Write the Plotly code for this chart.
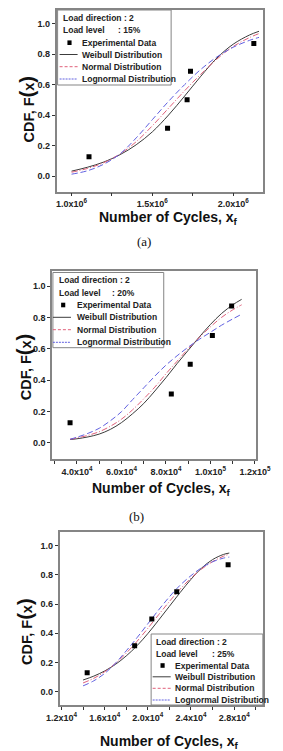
import plotly.graph_objects as go

FIG_W, FIG_H = 283, 751

# ---------------- data ----------------
# Panel (a)  load level 15 %
a_exp_x = [1.108e6, 1.594e6, 1.715e6, 1.736e6, 2.128e6]
a_exp_y = [0.127, 0.313, 0.500, 0.687, 0.869]
a_fit_x = [1.0e6, 1.1e6, 1.2e6, 1.3e6, 1.4e6, 1.5e6, 1.6e6, 1.7e6, 1.8e6, 1.9e6, 2.0e6, 2.1e6, 2.16e6]
a_weibull = [0.032, 0.058, 0.092, 0.140, 0.205, 0.290, 0.400, 0.525, 0.655, 0.775, 0.865, 0.925, 0.950]
a_normal = [0.025, 0.050, 0.088, 0.145, 0.225, 0.330, 0.445, 0.560, 0.668, 0.768, 0.850, 0.908, 0.935]
a_lognormal = [0.012, 0.035, 0.078, 0.145, 0.250, 0.370, 0.490, 0.600, 0.700, 0.782, 0.845, 0.890, 0.910]
a_tickvals = [1.0e6, 1.5e6, 2.0e6]
a_ticktext = ["1.0x10<sup>6</sup>", "1.5x10<sup>6</sup>", "2.0x10<sup>6</sup>"]
a_minorvals = [1.25e6, 1.75e6]

# Panel (b)  load level 20 %
b_exp_x = [3.69e4, 8.24e4, 9.09e4, 1.0085e5, 1.095e5]
b_exp_y = [0.128, 0.311, 0.500, 0.685, 0.872]
b_fit_x = [3.69e4, 4.0e4, 4.5e4, 5.0e4, 5.5e4, 6.0e4, 6.5e4, 7.0e4, 7.5e4, 8.0e4, 8.5e4,
           9.0e4, 9.5e4, 1.0e5, 1.05e5, 1.1e5, 1.14e5]
b_weibull = [0.020, 0.025, 0.037, 0.055, 0.085, 0.128, 0.185, 0.250, 0.330, 0.415, 0.505,
             0.590, 0.675, 0.755, 0.825, 0.880, 0.915]
b_normal = [0.022, 0.030, 0.047, 0.070, 0.105, 0.150, 0.210, 0.280, 0.355, 0.440, 0.520,
            0.600, 0.672, 0.740, 0.800, 0.848, 0.880]
b_lognormal = [0.022, 0.035, 0.060, 0.092, 0.140, 0.198, 0.275, 0.350, 0.425, 0.495, 0.555,
               0.610, 0.660, 0.705, 0.750, 0.790, 0.820]
b_tickvals = [4e4, 6e4, 8e4, 1.0e5, 1.2e5]
b_ticktext = ["4.0x10<sup>4</sup>", "6.0x10<sup>4</sup>", "8.0x10<sup>4</sup>",
              "1.0x10<sup>5</sup>", "1.2x10<sup>5</sup>"]
b_minorvals = [3e4, 5e4, 7e4, 9e4, 1.1e5]

# Panel (c)  load level 25 %
c_exp_x = [1.438e4, 1.878e4, 2.037e4, 2.268e4, 2.744e4]
c_exp_y = [0.130, 0.315, 0.498, 0.685, 0.870]
c_fit_x = [1.4e4, 1.5e4, 1.6e4, 1.7e4, 1.8e4, 1.9e4, 2.0e4, 2.1e4, 2.2e4, 2.3e4, 2.4e4,
           2.5e4, 2.6e4, 2.7e4, 2.755e4]
c_weibull = [0.080, 0.107, 0.142, 0.187, 0.245, 0.315, 0.398, 0.490, 0.585, 0.680, 0.770,
             0.848, 0.905, 0.940, 0.950]
c_normal = [0.060, 0.092, 0.137, 0.194, 0.264, 0.345, 0.434, 0.527, 0.618, 0.703, 0.778,
            0.841, 0.891, 0.928, 0.942]
c_lognormal = [0.040, 0.075, 0.125, 0.195, 0.280, 0.370, 0.465, 0.560, 0.650, 0.730, 0.795,
               0.850, 0.890, 0.915, 0.922]
c_tickvals = [1.2e4, 1.6e4, 2.0e4, 2.4e4, 2.8e4]
c_ticktext = ["1.2x10<sup>4</sup>", "1.6x10<sup>4</sup>", "2.0x10<sup>4</sup>",
              "2.4x10<sup>4</sup>", "2.8x10<sup>4</sup>"]
c_minorvals = [1.4e4, 1.8e4, 2.2e4, 2.6e4, 3.0e4]

y_tickvals = [0.0, 0.2, 0.4, 0.6, 0.8, 1.0]
y_ticktext = ["0.0", "0.2", "0.4", "0.6", "0.8", "1.0"]

series_names = ["Experimental Data", "Weibull Distribution", "Normal Distribution", "Lognormal Distribution"]
load_levels = ["15%", "20%", "25%"]
captions = ["(a)", "(b)", "(c)"]

# ---------------- styling / layout ----------------
SANS = "Liberation Sans, Arial, sans-serif"
SERIF = "Liberation Serif, Times New Roman, serif"
W_COLOR = "#3c3c3c"
N_COLOR = "#e0607a"
L_COLOR = "#6060e0"
FRAME = "#858585"


def px(x):
    return x / FIG_W


def py(y):
    return 1 - y / FIG_H


panels = [
    dict(exp=(a_exp_x, a_exp_y), fx=a_fit_x, w=a_weibull, n=a_normal, l=a_lognormal,
         tv=a_tickvals, tt=a_ticktext, mv=a_minorvals,
         box=(48.3, 9.5, 277.5, 191.7), xr=[0.9069e6, 2.185e6], yr=[-0.103, 1.093],
         leg=(49.5, 10.0, 175.5, 85.0), rows=[18.3, 30.0, 42.7, 54.5, 66.7, 79.0],
         tx=53.3, lvx=114.0, mk=62.7, ln=(51.7, 71.7), et=74.3,
         ytitle=(15.0, 109.0), xtitle=(172.5, 217.5), cap=(145.0, 241.0)),
    dict(exp=(b_exp_x, b_exp_y), fx=b_fit_x, w=b_weibull, n=b_normal, l=b_lognormal,
         tv=b_tickvals, tt=b_ticktext, mv=b_minorvals,
         box=(43.3, 271.0, 269.3, 459.3), xr=[2.879e4, 1.203e5], yr=[-0.106, 1.096],
         leg=(44.3, 272.5, 167.3, 347.7), rows=[280.0, 292.7, 305.0, 317.3, 329.7, 342.3],
         tx=48.3, lvx=107.7, mk=55.7, ln=(44.3, 64.3), et=68.3,
         ytitle=(12.5, 367.0), xtitle=(164.7, 488.5), cap=(137.0, 516.5)),
    dict(exp=(c_exp_x, c_exp_y), fx=c_fit_x, w=c_weibull, n=c_normal, l=c_lognormal,
         tv=c_tickvals, tt=c_ticktext, mv=c_minorvals,
         box=(51.7, 531.7, 277.3, 705.0), xr=[1.1825e4, 3.066e4], yr=[-0.091, 1.096],
         leg=(153.3, 634.0, 277.3, 705.0), rows=[642.3, 654.3, 665.5, 676.8, 688.3, 700.0],
         tx=156.7, lvx=218.3, mk=166.0, ln=(155.0, 175.0), et=177.7,
         ytitle=(13.3, 631.0), xtitle=(174.0, 741.5), cap=(140.0, 756.0)),
]

fig = go.Figure()
shapes = []
annotations = []
layout_axes = {}

for i, p in enumerate(panels, start=1):
    xa = "x" if i == 1 else f"x{i}"
    ya = "y" if i == 1 else f"y{i}"
    ex, ey = p["exp"]
    fig.add_trace(go.Scatter(x=p["fx"], y=p["w"], mode="lines", name=series_names[1],
                             line=dict(color=W_COLOR, width=1, shape="spline"),
                             xaxis=xa, yaxis=ya, showlegend=False))
    fig.add_trace(go.Scatter(x=p["fx"], y=p["n"], mode="lines", name=series_names[2],
                             line=dict(color=N_COLOR, width=1, dash="6px,2px,1px,2px", shape="spline"),
                             xaxis=xa, yaxis=ya, showlegend=False))
    fig.add_trace(go.Scatter(x=p["fx"], y=p["l"], mode="lines", name=series_names[3],
                             line=dict(color=L_COLOR, width=1, dash="6px,3px", shape="spline"),
                             xaxis=xa, yaxis=ya, showlegend=False))
    fig.add_trace(go.Scatter(x=ex, y=ey, mode="markers", name=series_names[0],
                             marker=dict(symbol="square", size=5, color="black"),
                             xaxis=xa, yaxis=ya, showlegend=False))

    l, t, r, b = p["box"]
    axis_common = dict(showline=True, linecolor=FRAME, linewidth=1.5, mirror=True,
                       ticks="outside", ticklen=3, tickwidth=1, tickcolor="#333",
                       showgrid=False, zeroline=False, ticklabeloverflow="allow",
                       tickfont=dict(family=SANS, size=9, color="#222", weight="bold"))
    layout_axes["xaxis" if i == 1 else f"xaxis{i}"] = dict(
        axis_common, domain=[px(l), px(r)], range=p["xr"], anchor=ya,
        tickmode="array", tickvals=p["tv"], ticktext=p["tt"],
        minor=dict(tickmode="array", tickvals=p["mv"], ticks="outside", ticklen=3,
                   tickwidth=1, tickcolor="#333", showgrid=False))
    layout_axes["yaxis" if i == 1 else f"yaxis{i}"] = dict(
        axis_common, domain=[py(b), py(t)], range=p["yr"], anchor=xa,
        tickmode="array", tickvals=y_tickvals, ticktext=y_ticktext)

    # legend box
    lx0, ly0, lx1, ly1 = p["leg"]
    shapes.append(dict(type="rect", xref="paper", yref="paper",
                       x0=px(lx0), x1=px(lx1), y0=py(ly1), y1=py(ly0),
                       line=dict(color=FRAME, width=1), fillcolor="white", layer="above"))
    rows = p["rows"]
    lf = dict(family=SANS, size=8.5, color="#222", weight="bold")
    annotations.append(dict(text="Load direction : 2", x=px(p["tx"]), y=py(rows[0]),
                            xref="paper", yref="paper", xanchor="left", yanchor="middle",
                            showarrow=False, font=lf))
    annotations.append(dict(text="Load level", x=px(p["tx"]), y=py(rows[1]),
                            xref="paper", yref="paper", xanchor="left", yanchor="middle",
                            showarrow=False, font=lf))
    annotations.append(dict(text=": " + load_levels[i - 1], x=px(p["lvx"]), y=py(rows[1]),
                            xref="paper", yref="paper", xanchor="left", yanchor="middle",
                            showarrow=False, font=lf))
    # marker key
    m = p["mk"]
    shapes.append(dict(type="rect", xref="paper", yref="paper",
                       x0=px(m - 2.3), x1=px(m + 2.3), y0=py(rows[2] + 2.3), y1=py(rows[2] - 2.3),
                       line=dict(width=0), fillcolor="black", layer="above"))
    keys = [(W_COLOR, "solid"), (N_COLOR, "3px,2px"), (L_COLOR, "2px,1px")]
    for k, (col, dash) in enumerate(keys):
        yy = rows[3 + k]
        shapes.append(dict(type="line", xref="paper", yref="paper",
                           x0=px(p["ln"][0]), x1=px(p["ln"][1]), y0=py(yy), y1=py(yy),
                           line=dict(color=col, width=1, dash=dash), layer="above"))
    for k in range(4):
        annotations.append(dict(text=series_names[k], x=px(p["et"]), y=py(rows[2 + k]),
                                xref="paper", yref="paper", xanchor="left", yanchor="middle",
                                showarrow=False, font=lf))

    # axis titles and caption
    annotations.append(dict(
        text='CDF, F<span style="font-size:20px">(</span>x<span style="font-size:20px">)</span>',
        x=px(p["ytitle"][0]), y=py(p["ytitle"][1]), xref="paper", yref="paper",
        xanchor="center", yanchor="middle", textangle=-90, showarrow=False,
        font=dict(family=SANS, size=14.5, color="#111", weight="bold")))
    annotations.append(dict(
        text="Number of Cycles, x<sub>f</sub>",
        x=px(p["xtitle"][0]), y=py(p["xtitle"][1]), xref="paper", yref="paper",
        xanchor="center", yanchor="middle", showarrow=False,
        font=dict(family=SANS, size=14, color="#111", weight="bold")))
    annotations.append(dict(
        text=captions[i - 1], x=px(p["cap"][0]), y=py(p["cap"][1]), xref="paper", yref="paper",
        xanchor="center", yanchor="middle", showarrow=False,
        font=dict(family=SERIF, size=13, color="#111")))

fig.update_layout(
    width=FIG_W, height=FIG_H, margin=dict(l=0, r=0, t=0, b=0, pad=0),
    paper_bgcolor="white", plot_bgcolor="white", showlegend=False,
    shapes=shapes, annotations=annotations, **layout_axes)

fig.write_html("out.html")
